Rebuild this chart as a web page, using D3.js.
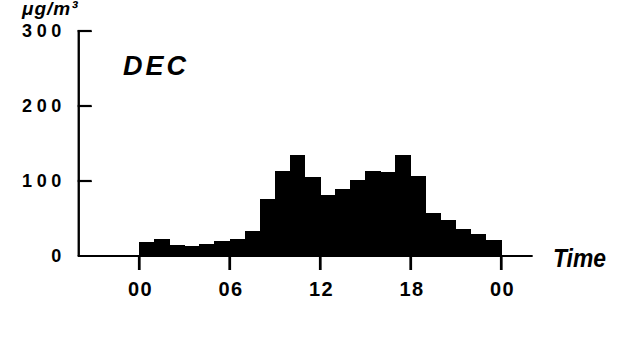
<!DOCTYPE html>
<html>
<head>
<meta charset="utf-8">
<script src="https://cdn.jsdelivr.net/npm/d3@7"></script>
<style>
  body { margin: 0; background: #fff; }
  svg { display: block; font-family: "Liberation Sans", Arial, sans-serif; }
</style>
</head>
<body>
<div id="container"></div>
<script>
//Chart data: hourly mean concentration in December
const hours = [0, 1, 2, 3, 4, 5, 6, 7, 8, 9, 10, 11, 12, 13, 14, 15, 16, 17, 18, 19, 20, 21, 22, 23];
const values = [19, 23, 15, 13, 16, 20, 23, 33, 76, 114, 135, 105, 81, 90, 101, 114, 112, 135, 107, 58, 48, 36, 29, 22];
const xTicks = [0, 6, 12, 18, 24];
const xTickLabels = ["00", "06", "12", "18", "00"];
const yTicks = [0, 100, 200, 300];

const width = 625;
const height = 337;

const svg = d3.select("#container")
    .append("svg")
    .attr("width", width)
    .attr("height", height);

//Scales
const xScale = d3.scaleLinear()
    .domain([0, 24])
    .range([139, 501]);

const yScale = d3.scaleLinear()
    .domain([0, 300])
    .range([256, 31]);

const axisX = xScale(-4);

//Bars, crisp edges so neighbours join into one solid shape
svg.selectAll("rect")
    .data(hours)
    .enter()
    .append("rect")
    .attr("x", d => xScale(d))
    .attr("y", (d, i) => yScale(values[i]))
    .attr("width", d => xScale(d + 1) - xScale(d) + 0.5)
    .attr("height", (d, i) => yScale(0) - yScale(values[i]))
    .attr("fill", "#000")
    .attr("shape-rendering", "crispEdges");

//x-axis labels
const xAxis = d3.axisBottom(xScale)
    .tickValues(xTicks)
    .tickFormat((d, i) => xTickLabels[i])
    .tickSizeInner(14)
    .tickSizeOuter(0)
    .tickPadding(12);
const gx = svg.append("g")
    .attr("transform", `translate(0, ${yScale(0)})`)
    .call(xAxis);
gx.select(".domain").remove();
gx.selectAll(".tick line")
    .attr("stroke", "#000")
    .attr("stroke-width", 2.2);
gx.selectAll(".tick text")
    .attr("fill", "#000")
    .attr("font-size", 20)
    .attr("font-weight", "bold")
    .attr("letter-spacing", 1.5)
    .attr("dx", "1px");

//x tick marks below the baseline
svg.selectAll("line.xtick")
    .data(xTicks)
    .enter()
    .append("line")
    .attr("class", "xtick")
    .attr("x1", d => xScale(d))
    .attr("x2", d => xScale(d))
    .attr("y1", yScale(0))
    .attr("y2", yScale(0) + 14)
    .attr("stroke", "#000")
    .attr("stroke-width", 2.2);

//y-axis labels
const yAxis = d3.axisLeft(yScale)
    .tickValues(yTicks)
    .tickSizeInner(-13)
    .tickSizeOuter(0)
    .tickPadding(17);
const gy = svg.append("g")
    .attr("transform", `translate(${axisX}, 0)`)
    .call(yAxis);
gy.selectAll(".tick text")
    .attr("fill", "#000")
    .attr("font-size", 18)
    .attr("font-weight", "bold")
    .attr("letter-spacing", 4.5)
    .attr("dx", "4px");

//y-axis line and inward ticks
svg.append("line")
    .attr("x1", axisX)
    .attr("x2", axisX)
    .attr("y1", yScale(0))
    .attr("y2", yScale(300) - 1)
    .attr("stroke", "#000")
    .attr("stroke-width", 2.2);

svg.selectAll("line.ytick")
    .data(yTicks.filter(d => d > 0))
    .enter()
    .append("line")
    .attr("class", "ytick")
    .attr("x1", axisX - 1)
    .attr("x2", axisX + 13)
    .attr("y1", d => yScale(d))
    .attr("y2", d => yScale(d))
    .attr("stroke", "#000")
    .attr("stroke-width", 2.2);

//Baseline running past both ends
svg.append("line")
    .attr("x1", axisX - 1)
    .attr("x2", xScale(26.1))
    .attr("y1", yScale(0))
    .attr("y2", yScale(0))
    .attr("stroke", "#000")
    .attr("stroke-width", 2.2);

//Unit label
svg.append("text")
    .attr("x", 22)
    .attr("y", 15)
    .attr("font-size", 19)
    .attr("font-weight", "bold")
    .attr("font-style", "italic")
    .attr("letter-spacing", 1)
    .text("μg/m³");

//Month label
svg.append("text")
    .attr("x", 123)
    .attr("y", 75)
    .attr("font-size", 27)
    .attr("font-weight", "bold")
    .attr("font-style", "italic")
    .attr("letter-spacing", 3)
    .text("DEC");

//x-axis title
svg.append("text")
    .attr("x", 553)
    .attr("y", 267)
    .attr("font-size", 25)
    .attr("font-weight", "bold")
    .attr("font-style", "italic")
    .attr("textLength", 53)
    .attr("lengthAdjust", "spacingAndGlyphs")
    .text("Time");
</script>
</body>
</html>
